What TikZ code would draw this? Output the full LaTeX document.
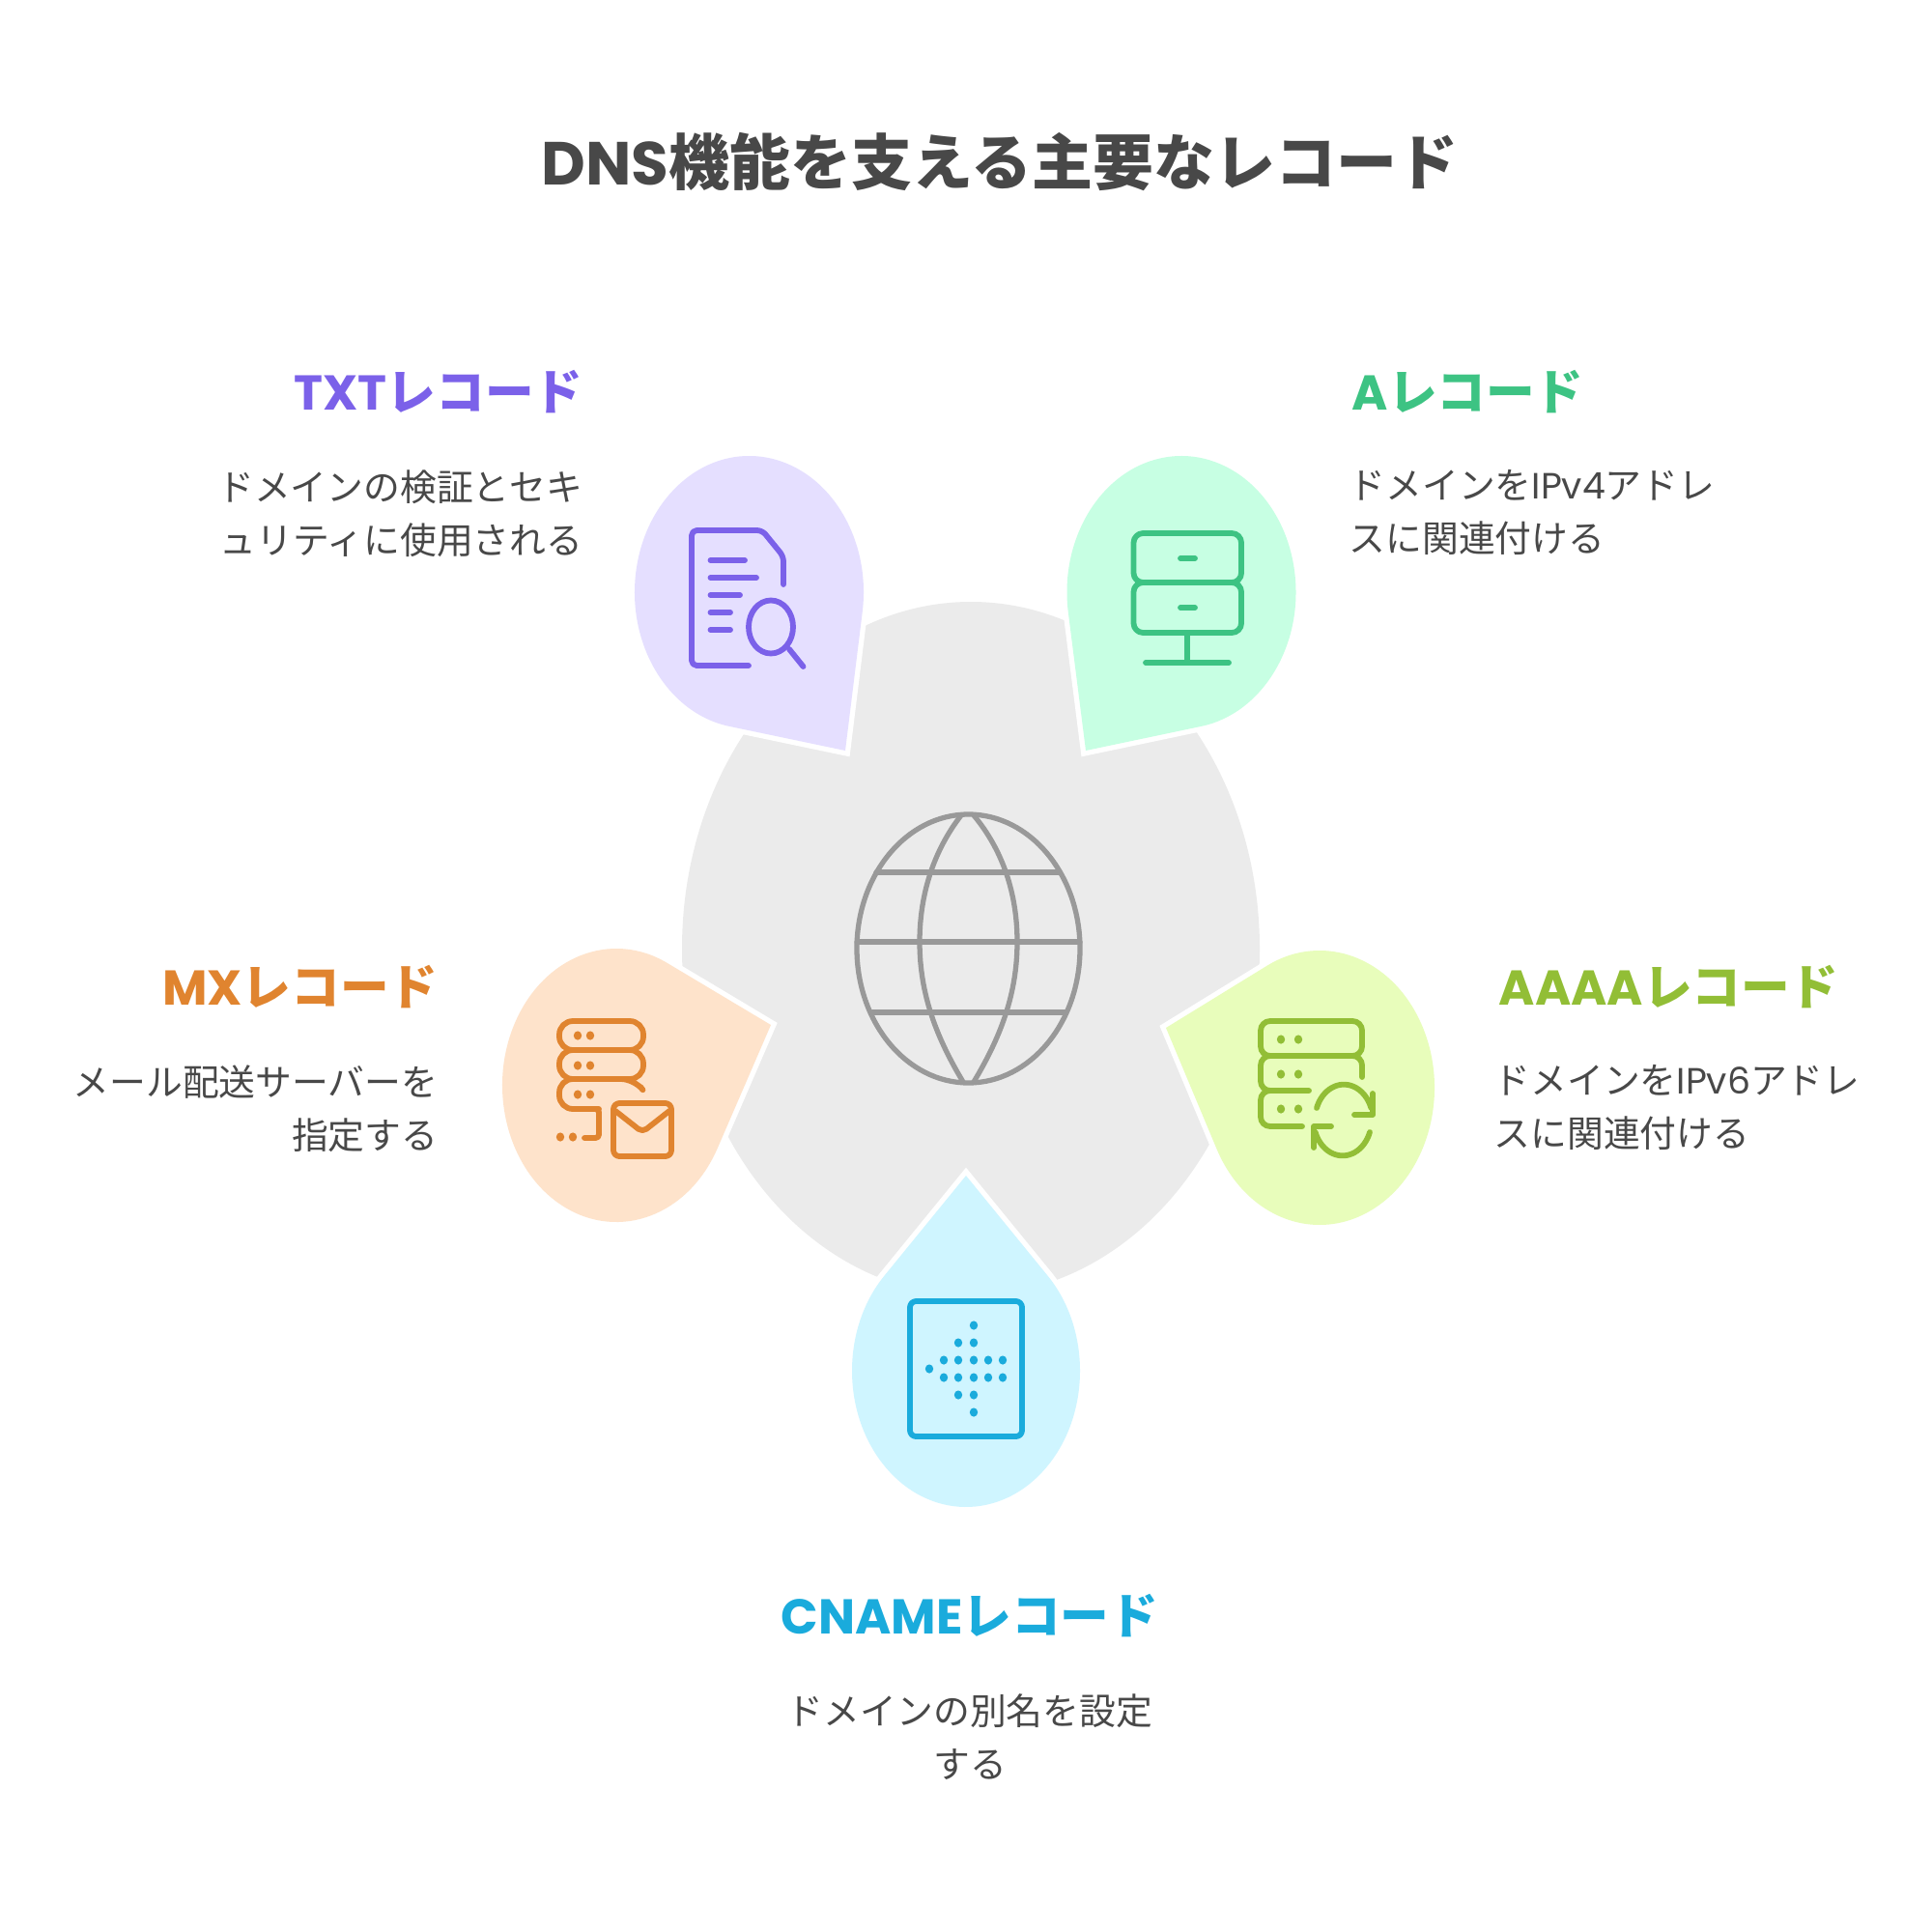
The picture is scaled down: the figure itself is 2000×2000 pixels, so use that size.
\documentclass[tikz,border=0pt]{standalone}
\usepackage{fontspec}
\setmainfont{Noto Sans CJK JP}
\newfontfamily\latinfont{Poppins}
\usetikzlibrary{positioning}
\definecolor{inktext}{HTML}{484848}
\definecolor{greyfill}{HTML}{EBEBEB}
\definecolor{greyline}{HTML}{999999}
\definecolor{txtfill}{HTML}{E5DFFF}
\definecolor{txtline}{HTML}{7B61E9}
\definecolor{afill}{HTML}{C7FFE3}
\definecolor{aline}{HTML}{3DC383}
\definecolor{mxfill}{HTML}{FEE3CB}
\definecolor{mxline}{HTML}{E0842F}
\definecolor{aaaafill}{HTML}{E8FDBB}
\definecolor{aaaaline}{HTML}{92BE36}
\definecolor{cnamefill}{HTML}{CFF5FF}
\definecolor{cnameline}{HTML}{1AABDC}
\tikzset{
  blobshape/.style={preaction={draw=white, line width=3pt}},
  ico/.style={line width=1.65pt, line cap=round, line join=round},
  pagetitle/.style={inner sep=0pt, text=inktext, font=\bfseries\fontsize{17.9}{21}\selectfont},
  head/.style={inner sep=0pt, font=\bfseries\fontsize{14.4}{17}\selectfont},
  body/.style={inner sep=0pt, text=inktext, font=\fontsize{10.75}{15.65}\selectfont}
}
\newcommand{\blob}[7]{%
  \pgfmathsetmacro{\blobu}{(#6-#2)/#4}
  \pgfmathsetmacro{\blobv}{(#7-#3)/#5}
  \pgfmathsetmacro{\blobang}{atan2(\blobv,\blobu)}
  \pgfmathsetmacro{\blobdel}{acos(1/sqrt(\blobu*\blobu+\blobv*\blobv))}
  \pgfmathsetmacro{\blobs}{\blobang+\blobdel}
  \pgfmathsetmacro{\blobe}{\blobang-\blobdel+360}
  \path[blobshape, fill=#1] (#6,#7) -- ({#2+#4*cos(\blobs)},{#3+#5*sin(\blobs)})
    arc[start angle=\blobs, end angle=\blobe, x radius=#4, y radius=#5] -- cycle;
}
\newcommand{\icodot}[2]{\fill (#1,#2) ellipse [x radius=4.2, y radius=4.6];}
\newcommand{\lat}[1]{{\latinfont #1}}

\begin{document}
\begin{tikzpicture}[x=0.01cm,y=-0.01cm]
  \useasboundingbox (0,0) rectangle (2000,2000);

  % centre
  \fill[greyfill] (1005,982) ellipse [x radius=299, y radius=359];
  \begin{scope}[ico, draw=greyline, line width=1.5pt]
    \draw (1002.5,982) ellipse [x radius=115.5, y radius=139];
    \draw (907,903) -- (1097,903);
    \draw (887,975) -- (1118,975);
    \draw (903,1048) -- (1103,1048);
    \draw (995,844) .. controls (967,880) and (952,925) .. (952,975) .. controls (952,1030) and (970,1075) .. (997,1120);
    \draw (1008,844) .. controls (1038,880) and (1053,925) .. (1053,975) .. controls (1053,1030) and (1035,1075) .. (1008,1120);
  \end{scope}

  % petals
  \blob{txtfill}{775.5}{613}{118.5}{141}{875}{777}
  \blob{afill}{1223}{613}{118.5}{141}{1124}{777}
  \blob{mxfill}{638}{1123.5}{118}{141.5}{798}{1061}
  \blob{aaaafill}{1366}{1126}{119}{142}{1207}{1064}
  \blob{cnamefill}{1000}{1419}{118}{141}{1000}{1217}

  % TXT icon
  \begin{scope}[ico, draw=txtline, fill=txtline]
    \draw[rounded corners=1.5pt] (811,605) -- (811,576) -- (789,549) -- (716,549) -- (716,689) -- (775,689);
    \draw (735.5,580) -- (771,580);
    \draw (735.5,598) -- (783,598);
    \draw (735.5,616) -- (766,616);
    \draw (735.5,634) -- (756,634);
    \draw (735.5,652) -- (756,652);
    \draw (798,649) ellipse [x radius=23, y radius=27.5];
    \draw (817,672) -- (831.5,690);
  \end{scope}

  % A icon
  \begin{scope}[ico, draw=aline]
    \draw[rounded corners=2.8pt] (1173.5,552) rectangle (1285,603);
    \draw[rounded corners=2.8pt] (1173.5,603) rectangle (1285,655);
    \draw (1222,578) -- (1237,578);
    \draw (1222,629) -- (1237,629);
    \draw (1229,655) -- (1229,686);
    \draw (1186,686) -- (1272,686);
  \end{scope}

  % MX icon
  \begin{scope}[ico, draw=mxline, fill=mxline]
    \draw[rounded corners=4pt] (579,1057) rectangle (666,1087);
    \draw[rounded corners=4pt] (579,1087) rectangle (666,1117);
    \draw[rounded corners=4pt] (663,1125) -- (657,1117) -- (579,1117) -- (579,1148) -- (620,1148);
    \draw[rounded corners=1pt] (610,1148) -- (620,1148) -- (620,1178) -- (605,1178);
    \icodot{598}{1072} \icodot{611}{1072}
    \icodot{598}{1103} \icodot{611}{1103}
    \icodot{598}{1133} \icodot{611}{1133}
    \icodot{580}{1177} \icodot{593}{1177}
    \draw[rounded corners=1.8pt] (635,1142) rectangle (695,1197);
    \draw[rounded corners=1.5pt] (637,1150) -- (665,1172) -- (693,1150);
  \end{scope}

  % AAAA icon
  \begin{scope}[ico, draw=aaaaline, fill=aaaaline]
    \draw[rounded corners=2.8pt] (1305,1057) rectangle (1410,1093);
    \draw[rounded corners=2.8pt] (1410,1115) -- (1410,1093) -- (1305,1093) -- (1305,1129) -- (1355,1129);
    \draw[rounded corners=2.8pt] (1320,1129) -- (1305,1129) -- (1305,1166) -- (1348,1166);
    \icodot{1326}{1076} \icodot{1344}{1076}
    \icodot{1326}{1112} \icodot{1344}{1112}
    \icodot{1326}{1148} \icodot{1344}{1148}
    \draw (1363,1147) arc [start angle=200, end angle=340, x radius=30, y radius=37];
    \draw (1421,1132) -- (1421,1154) -- (1402,1154);
    \draw (1418,1172) arc [start angle=20, end angle=160, x radius=30, y radius=37];
    \draw (1360,1188) -- (1360,1166) -- (1378,1166);
  \end{scope}

  % CNAME icon
  \begin{scope}[ico, draw=cnameline, fill=cnameline]
    \draw[rounded corners=1.8pt] (942,1347) rectangle (1058,1487);
    \icodot{1008}{1372}
    \icodot{992}{1390} \icodot{1008}{1390}
    \icodot{977}{1408} \icodot{992}{1408} \icodot{1008}{1408} \icodot{1023}{1408} \icodot{1038}{1408}
    \icodot{962}{1417}
    \icodot{977}{1426} \icodot{992}{1426} \icodot{1008}{1426} \icodot{1023}{1426} \icodot{1038}{1426}
    \icodot{992}{1444} \icodot{1008}{1444}
    \icodot{1008}{1462}
  \end{scope}

  % text
  \node[pagetitle] (title) at (1035,168) {\lat{DNS}機能を支える主要なレコード};

  \node[head, text=txtline, anchor=east] (txthead) at (604,406) {\lat{TXT}レコード};
  \node[head, text=aline, anchor=west] (ahead) at (1399,406) {\lat{A}レコード};
  \node[head, text=mxline, anchor=east] (mxhead) at (454,1022) {\lat{MX}レコード};
  \node[head, text=aaaaline, anchor=west] (aaaahead) at (1551,1022) {\lat{AAAA}レコード};
  \node[head, text=cnameline] (cnamehead) at (1004,1673) {\lat{CNAME}レコード};

  \node[body, align=right, below=0.57cm of txthead.south east, anchor=north east] (txtbody) {ドメインの検証とセキ\\ュリティに使用される};
  \node[body, align=left, below=0.57cm of ahead.south west, anchor=north west, xshift=-0.03cm] (abody) {ドメインを\lat{IPv4}アドレ\\スに関連付ける};
  \node[body, align=right, below=0.57cm of mxhead.south east, anchor=north east] (mxbody) {メール配送サーバーを\\指定する};
  \node[body, align=left, below=0.57cm of aaaahead.south west, anchor=north west, xshift=-0.05cm] (aaaabody) {ドメインを\lat{IPv6}アドレ\\スに関連付ける};
  \node[body, align=center, below=0.57cm of cnamehead] (cnamebody) {ドメインの別名を設定\\する};
\end{tikzpicture}
\end{document}
